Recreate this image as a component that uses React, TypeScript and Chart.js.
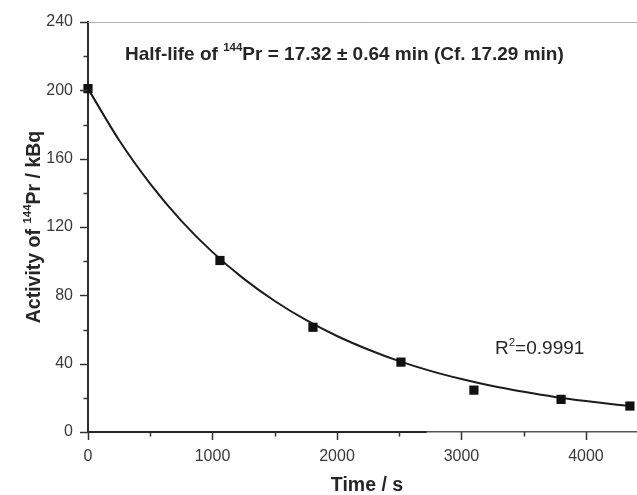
import React, { useEffect, useRef } from "react";
import { Chart, registerables } from "chart.js";

Chart.register(...registerables);

// Measured decay data (time in s, activity in kBq)
const timeS = [0, 1060, 1807, 2514, 3100, 3800, 4353];
const activityKBq = [201, 100.4, 61.3, 40.9, 24.5, 19.1, 15.2];

// Fitted curve
const fitTimeS = [0, 250, 500, 750, 1000, 1250, 1500, 1750, 2000, 2250, 2500, 2750, 3000, 3250, 3500, 3750, 4000, 4250, 4380];
const fitActivityKBq = [201, 170.8, 145.3, 123.6, 105.3, 89.8, 76.7, 65.6, 56.2, 48.3, 41.5, 35.8, 31.0, 26.9, 23.5, 20.5, 18.1, 16.0, 15.0];

// Dark baseline segment along y = 0 (from 0 s to about 2720 s)
const baselineSpanS = [0, 2720];

const xTickValues = [0, 500, 1000, 1500, 2000, 2500, 3000, 3500, 4000];
const xMajorTicks = [0, 1000, 2000, 3000, 4000];
const yTickValues = [0, 20, 40, 60, 80, 100, 120, 140, 160, 180, 200, 220, 240];
const yMajorTicks = [0, 40, 80, 120, 160, 200, 240];

const titleParts = [
  { t: "Half-life of ", sup: false },
  { t: "144", sup: true },
  { t: "Pr = 17.32 \u00B1 0.64 min (Cf. 17.29 min)", sup: false },
];
const yTitleParts = [
  { t: "Activity of ", sup: false },
  { t: "144", sup: true },
  { t: "Pr / kBq", sup: false },
];
const r2Parts = [
  { t: "R", sup: false },
  { t: "2", sup: true },
  { t: "=0.9991", sup: false },
];
const xTitle = "Time / s";

const FONT = "'Liberation Sans', Arial, sans-serif";

type Part = { t: string; sup: boolean };

function drawParts(
  ctx: CanvasRenderingContext2D,
  parts: Part[],
  x: number,
  y: number,
  weight: string,
  size: number,
  supSize: number,
  raise: number,
  align: "left" | "center"
) {
  const fontFor = (p: Part) => `${weight} ${p.sup ? supSize : size}px ${FONT}`;
  let total = 0;
  const widths = parts.map((p) => {
    ctx.font = fontFor(p);
    const w = ctx.measureText(p.t).width;
    total += w;
    return w;
  });
  let cx = align === "center" ? x - total / 2 : x;
  ctx.textAlign = "left";
  ctx.textBaseline = "alphabetic";
  parts.forEach((p, i) => {
    ctx.font = fontFor(p);
    ctx.fillText(p.t, cx, p.sup ? y - raise : y);
    cx += widths[i];
  });
}

export default function App() {
  const canvasRef = useRef<HTMLCanvasElement | null>(null);

  useEffect(() => {
    const canvas = canvasRef.current;
    if (!canvas) return;

    const decor = {
      id: "decor",
      afterDraw(chart: any) {
        const ctx: CanvasRenderingContext2D = chart.ctx;
        const area = chart.chartArea;
        const xs = chart.scales.x;
        const ys = chart.scales.y;
        ctx.save();
        // top frame line
        ctx.strokeStyle = "#b0b0b0";
        ctx.lineWidth = 1;
        ctx.beginPath();
        ctx.moveTo(area.left, area.top + 0.5);
        ctx.lineTo(chart.width, area.top + 0.5);
        ctx.stroke();

        // dark baseline segment
        ctx.strokeStyle = "#262626";
        ctx.lineWidth = 2.2;
        ctx.beginPath();
        const by = ys.getPixelForValue(0);
        ctx.moveTo(xs.getPixelForValue(baselineSpanS[0]), by);
        ctx.lineTo(xs.getPixelForValue(baselineSpanS[1]), by);
        ctx.stroke();

        // ticks
        ctx.strokeStyle = "#333";
        ctx.lineWidth = 1.5;
        yTickValues.forEach((v) => {
          const py = Math.round(ys.getPixelForValue(v)) + 0.5;
          const len = yMajorTicks.includes(v) ? 8 : 4.5;
          ctx.beginPath();
          ctx.moveTo(area.left - len, py);
          ctx.lineTo(area.left, py);
          ctx.stroke();
        });
        xTickValues.forEach((v) => {
          const px = Math.round(xs.getPixelForValue(v)) + 0.5;
          const len = xMajorTicks.includes(v) ? 8 : 4.5;
          ctx.beginPath();
          ctx.moveTo(px, area.bottom);
          ctx.lineTo(px, area.bottom + len);
          ctx.stroke();
        });

        // texts
        ctx.fillStyle = "#262626";
        drawParts(ctx, titleParts, 125, 60, "bold", 19, 11.5, 9, "left");
        drawParts(ctx, r2Parts, 495, 354, "normal", 19, 11.5, 8, "left");
        ctx.font = `bold 19.5px ${FONT}`;
        ctx.textAlign = "center";
        ctx.textBaseline = "alphabetic";
        ctx.fillText(xTitle, 367, 491);

        ctx.save();
        ctx.translate(40, (area.top + area.bottom) / 2);
        ctx.rotate(-Math.PI / 2);
        drawParts(ctx, yTitleParts, 0, 0, "bold", 19.5, 11.5, 9, "center");
        ctx.restore();
        ctx.restore();
      },
    };

    const chart = new Chart(canvas, {
      type: "scatter",
      data: {
        datasets: [
          {
            type: "line",
            label: "fit",
            data: fitTimeS.map((t, i) => ({ x: t, y: fitActivityKBq[i] })),
            borderColor: "#1c1c1c",
            borderWidth: 2,
            pointRadius: 0,
            cubicInterpolationMode: "monotone",
            fill: false,
            order: 2,
          } as any,
          {
            type: "scatter",
            label: "data",
            data: timeS.map((t, i) => ({ x: t, y: activityKBq[i] })),
            pointStyle: "rect",
            pointRadius: 6.5,
            backgroundColor: "#111",
            borderColor: "#111",
            borderWidth: 0,
            order: 1,
          } as any,
        ],
      },
      options: {
        responsive: false,
        animation: false,
        events: [],
        clip: false as any,
        layout: { autoPadding: false, padding: { top: 22, right: 0, left: 0, bottom: 0 } } as any,
        plugins: {
          legend: { display: false },
          tooltip: { enabled: false },
          title: { display: false },
        },
        scales: {
          x: {
            type: "linear",
            min: 0,
            max: 4410,
            grid: { display: false, drawTicks: false },
            border: { display: true, color: "#555", width: 1.5 },
            ticks: {
              padding: 15,
              color: "#3a3a3a",
              font: { family: FONT, size: 16 },
              maxRotation: 0,
              minRotation: 0,
              autoSkip: false,
              callback: (v: any) => (xMajorTicks.includes(Number(v)) ? String(v) : ""),
            },
            afterBuildTicks: (s: any) => {
              s.ticks = xTickValues.map((v) => ({ value: v }));
            },
            afterFit: (s: any) => {
              s.height = 63;
              s.paddingLeft = 0;
              s.paddingRight = 0;
            },
          },
          y: {
            type: "linear",
            min: 0,
            max: 240,
            grid: { display: false, drawTicks: false },
            border: { display: true, color: "#2e2e2e", width: 2 },
            ticks: {
              padding: 15,
              color: "#3a3a3a",
              font: { family: FONT, size: 16 },
              autoSkip: false,
              callback: (v: any) => (yMajorTicks.includes(Number(v)) ? String(v) : ""),
            },
            afterBuildTicks: (s: any) => {
              s.ticks = yTickValues.map((v) => ({ value: v }));
            },
            afterFit: (s: any) => {
              s.width = 88;
              s.paddingTop = 0;
              s.paddingBottom = 0;
            },
          },
        },
      },
      plugins: [decor],
    });

    return () => chart.destroy();
  }, []);

  return (
    <div style={{ position: "absolute", left: 0, top: 0, width: 637, height: 495, background: "#fff" }}>
      <canvas ref={canvasRef} width={637} height={495} style={{ display: "block" }} />
    </div>
  );
}
